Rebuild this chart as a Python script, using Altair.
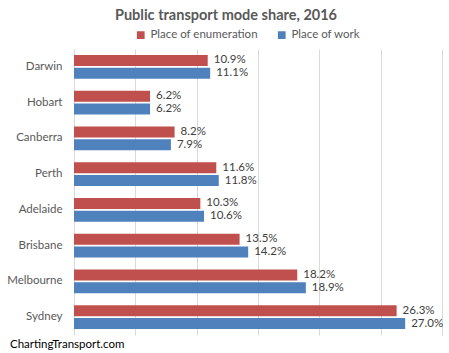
import altair as alt
import pandas as pd

cities = ["Darwin", "Hobart", "Canberra", "Perth", "Adelaide", "Brisbane", "Melbourne", "Sydney"]
enumeration = [10.9, 6.2, 8.2, 11.6, 10.3, 13.5, 18.2, 26.3]
work = [11.1, 6.2, 7.9, 11.8, 10.6, 14.2, 18.9, 27.0]
series = ["Place of enumeration", "Place of work"]
colors = ["#C0504D", "#4F81BD"]
ticks = [0, 5, 10, 15, 20, 25, 30]

rows = []
for c, e, w in zip(cities, enumeration, work):
    rows.append({"city": c, "series": series[0], "value": e})
    rows.append({"city": c, "series": series[1], "value": w})
df = pd.DataFrame(rows)

FONT = "Lato"
W, H = 368, 286

y_enc = alt.Y("city:N", sort=cities, title=None,
              scale=alt.Scale(paddingInner=0.33, paddingOuter=0.165),
              axis=alt.Axis(domain=False, ticks=False, labelPadding=12, labelFontSize=11.5,
                            labelColor="#595959", labelFont=FONT))
yoff = alt.YOffset("series:N", sort=series, scale=alt.Scale(paddingInner=0.15))
x_enc = alt.X("value:Q", title=None,
              scale=alt.Scale(domain=[0, 30], nice=False),
              axis=alt.Axis(values=ticks, labels=False, ticks=False, domain=False,
                            grid=True, gridColor="#D9D9D9", gridWidth=1))

bars = alt.Chart(df).mark_bar(strokeWidth=0.8).encode(
    x=x_enc,
    y=y_enc,
    yOffset=yoff,
    color=alt.Color("series:N", sort=series,
                    scale=alt.Scale(domain=series, range=colors),
                    legend=alt.Legend(title=None, orient="none", legendX=61, legendY=-20,
                                      direction="horizontal", symbolType="square",
                                      symbolSize=60, labelFontSize=11.5, labelColor="#595959",
                                      labelFont=FONT, columnPadding=18, symbolStrokeWidth=0,
                                      labelOffset=4)),
)

labels = alt.Chart(df).transform_calculate(
    label="format(datum.value, '.1f') + '%'"
).mark_text(align="left", baseline="middle", dx=6, fontSize=11.5, color="#404040", font=FONT).encode(
    x="value:Q",
    y=alt.Y("city:N", sort=cities),
    yOffset=alt.YOffset("series:N", sort=series),
    text="label:N",
)

title = alt.Chart(pd.DataFrame({"t": ["Public transport mode share, 2016"]})).mark_text(
    fontSize=14.5, fontWeight="bold", color="#595959", font=FONT, align="center", baseline="middle"
).encode(x=alt.value(152), y=alt.value(-33), text="t:N")

footer = alt.Chart(pd.DataFrame({"t": ["ChartingTransport.com"]})).mark_text(
    fontSize=11.5, color="#000000", font=FONT, align="left", baseline="middle"
).encode(x=alt.value(-64), y=alt.value(296), text="t:N")

chart = alt.layer(bars, labels, title, footer).properties(
    width=W, height=H,
    autosize=alt.AutoSizeParams(type="none"),
    padding={"left": 74, "top": 49, "right": 7, "bottom": 18},
    background="white",
).configure_view(stroke=None)

chart.save("out.html", embed_options={"renderer": "svg", "actions": False})
